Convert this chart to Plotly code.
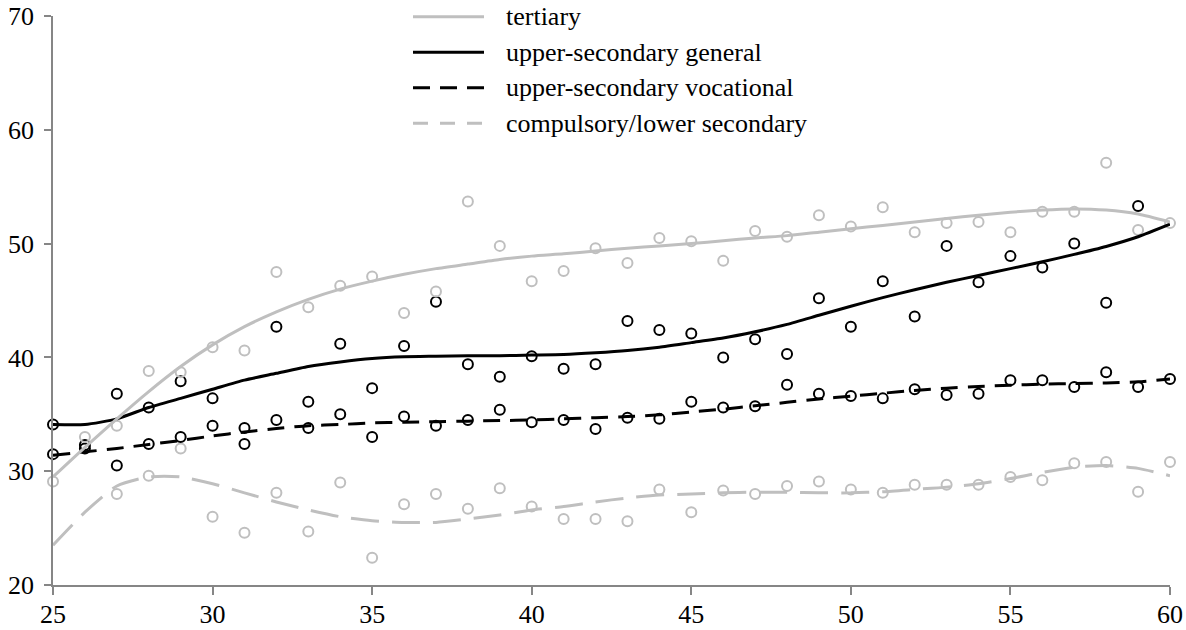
import plotly.graph_objects as go

# Age in years
ages = list(range(25, 61))

# Observed shares by education level (None = no observation)
tertiary = [29.1, 33.0, 34.0, 38.8, 38.7, 40.9, 40.6, 47.5, 44.4, 46.3,
            47.1, 43.9, 45.8, 53.7, 49.8, 46.7, 47.6, 49.6, 48.3, 50.5,
            50.2, 48.5, 51.1, 50.6, 52.5, 51.5, 53.2, 51.0, 51.8, 51.9,
            51.0, 52.8, 52.8, 57.1, 51.2, 51.8]
general = [34.1, 32.3, 36.8, 35.6, 37.9, 36.4, 33.8, 42.7, 36.1, 41.2,
           37.3, 41.0, 44.9, 39.4, 38.3, 40.1, 39.0, 39.4, 43.2, 42.4,
           42.1, 40.0, 41.6, 40.3, 45.2, 42.7, 46.7, 43.6, 49.8, 46.6,
           48.9, 47.9, 50.0, 44.8, 53.3, None]
vocational = [31.5, 32.0, 30.5, 32.4, 33.0, 34.0, 32.4, 34.5, 33.8, 35.0,
              33.0, 34.8, 34.0, 34.5, 35.4, 34.3, 34.5, 33.7, 34.7, 34.6,
              36.1, 35.6, 35.7, 37.6, 36.8, 36.6, 36.4, 37.2, 36.7, 36.8,
              38.0, 38.0, 37.4, 38.7, 37.4, 38.1]
compulsory = [None, None, 28.0, 29.6, 32.0, 26.0, 24.6, 28.1, 24.7, 29.0,
              22.4, 27.1, 28.0, 26.7, 28.5, 26.9, 25.8, 25.8, 25.6, 28.4,
              26.4, 28.3, 28.0, 28.7, 29.1, 28.4, 28.1, 28.8, 28.8, 28.8,
              29.5, 29.2, 30.7, 30.8, 28.2, 30.8]

# Smoothed trend values per age
tertiary_trend = [29.5, 32.1, 34.6, 37.0, 39.2, 41.1, 42.7, 44.0, 45.1, 46.0,
                  46.7, 47.3, 47.8, 48.2, 48.6, 48.9, 49.1, 49.35, 49.6, 49.8,
                  50.0, 50.25, 50.5, 50.7, 51.0, 51.3, 51.6, 51.9, 52.2, 52.5,
                  52.75, 52.95, 53.05, 52.95, 52.6, 51.9]
general_trend = [34.1, 34.1, 34.6, 35.6, 36.4, 37.2, 38.0, 38.6, 39.2, 39.6,
                 39.9, 40.05, 40.1, 40.15, 40.15, 40.2, 40.25, 40.4, 40.6, 40.9,
                 41.3, 41.7, 42.25, 42.9, 43.7, 44.5, 45.25, 45.95, 46.6, 47.2,
                 47.8, 48.4, 49.05, 49.75, 50.6, 51.7]
vocational_trend = [31.4, 31.7, 32.0, 32.35, 32.7, 33.1, 33.45, 33.75, 34.0, 34.1,
                    34.25, 34.3, 34.35, 34.4, 34.45, 34.5, 34.6, 34.7, 34.8, 34.95,
                    35.2, 35.45, 35.75, 36.05, 36.35, 36.6, 36.85, 37.1, 37.3, 37.45,
                    37.55, 37.65, 37.7, 37.75, 37.85, 38.1]
compulsory_trend = [23.5, 26.4, 28.7, 29.5, 29.5, 28.9, 28.1, 27.3, 26.6, 26.0,
                    25.65, 25.5, 25.5, 25.8, 26.15, 26.6, 26.9, 27.3, 27.65, 27.9,
                    28.0, 28.1, 28.15, 28.15, 28.1, 28.1, 28.2, 28.4, 28.6, 28.9,
                    29.35, 29.9, 30.35, 30.5, 30.25, 29.6]

labels = ["tertiary", "upper-secondary general",
          "upper-secondary vocational", "compulsory/lower secondary"]

GREY = "#BFBFBF"
BLACK = "#000000"
AXIS = "#868686"
FONT = "Liberation Serif, Times New Roman, serif"

series = [
    (compulsory, compulsory_trend, GREY, "28px,13px"),
    (vocational, vocational_trend, BLACK, "17px,10px"),
    (general, general_trend, BLACK, "solid"),
    (tertiary, tertiary_trend, GREY, "solid"),
]

fig = go.Figure()

# observation markers
for obs, _, color, _ in series:
    fig.add_trace(go.Scatter(
        x=ages, y=obs, mode="markers", showlegend=False, hoverinfo="skip",
        cliponaxis=False,
        marker=dict(symbol="circle-open", size=10, color=color,
                    line=dict(width=2, color=color))))

# trend curves
for _, trend, color, dash in series:
    fig.add_trace(go.Scatter(
        x=ages, y=trend, mode="lines", showlegend=False, hoverinfo="skip",
        line=dict(color=color, width=3, dash=dash, shape="spline",
                  smoothing=0.6)))

W, H = 1186, 630
ML, MR, MT, MB = 53, 16, 16, 45
PW, PH = W - ML - MR, H - MT - MB


def px(x):
    return (x - ML) / PW


def py(y):
    return (H - MB - y) / PH


# legend drawn as paper-anchored samples and labels
legend_styles = [(GREY, "solid"), (BLACK, "solid"),
                 (BLACK, "17px,10px"), (GREY, "15px,12px")]
row_y = [16.7, 52.2, 87.7, 123.2]
shapes = []
annotations = []
for (color, dash), yrow, text in zip(legend_styles, row_y, labels):
    shapes.append(dict(type="line", xref="paper", yref="paper",
                       x0=px(413), x1=px(484), y0=py(yrow), y1=py(yrow),
                       line=dict(color=color, width=3, dash=dash)))
    annotations.append(dict(xref="paper", yref="paper", x=px(504), y=py(yrow),
                            text=text, showarrow=False, xanchor="left",
                            yanchor="middle",
                            font=dict(family=FONT, size=26, color=BLACK)))

fig.update_layout(
    width=W, height=H,
    margin=dict(l=ML, r=MR, t=MT, b=MB, pad=0, autoexpand=False),
    paper_bgcolor="white", plot_bgcolor="white",
    showlegend=False,
    font=dict(family=FONT, size=26, color=BLACK),
    shapes=shapes, annotations=annotations,
    xaxis=dict(range=[25, 60], tickvals=[25, 30, 35, 40, 45, 50, 55, 60],
               automargin=False, ticklabelstandoff=-3,
               showgrid=False, zeroline=False, showline=True,
               linecolor=AXIS, linewidth=1.5, ticks="outside", ticklen=8,
               tickcolor=AXIS, tickwidth=1.5,
               tickfont=dict(family=FONT, size=26, color=BLACK)),
    yaxis=dict(range=[20, 70], tickvals=[20, 30, 40, 50, 60, 70],
               automargin=False, ticklabelstandoff=5,
               showgrid=False, zeroline=False, showline=True,
               linecolor=AXIS, linewidth=1.5, ticks="outside", ticklen=7,
               tickcolor=AXIS, tickwidth=1.5,
               tickfont=dict(family=FONT, size=26, color=BLACK)),
)

fig.write_html("out.html")
